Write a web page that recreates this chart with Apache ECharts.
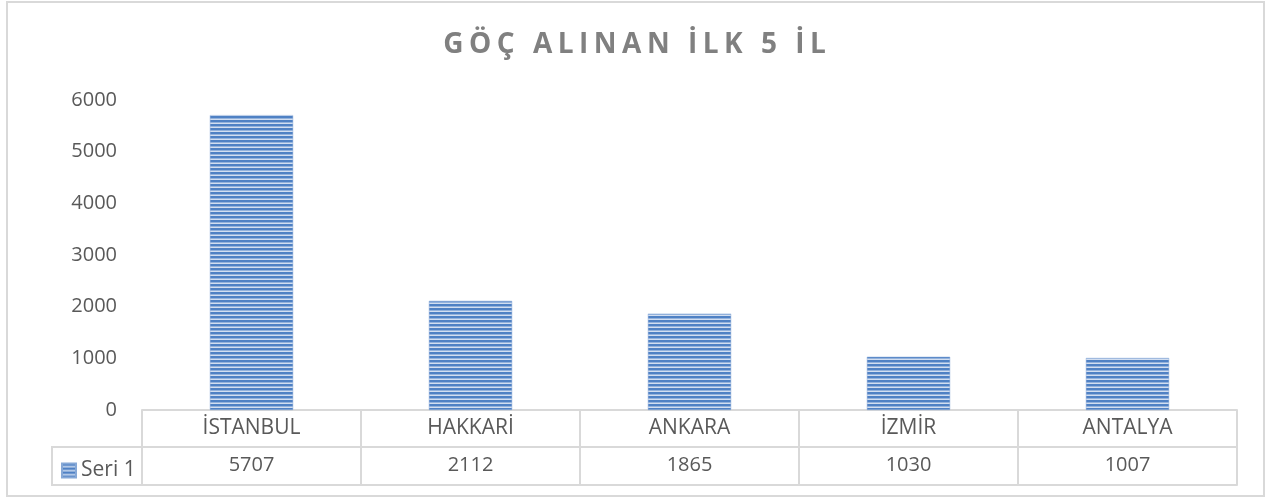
<!DOCTYPE html>
<html>
<head>
<meta charset="utf-8">
<script src="https://cdn.jsdelivr.net/npm/echarts@6/dist/echarts.min.js"></script>
<style>
html,body{margin:0;padding:0;background:#fff;}
#c{width:1269px;height:500px;}
</style>
</head>
<body>
<div id="c"></div>
<script>
const TITLE = 'GÖÇ ALINAN İLK 5 İL';
const categories = ['İSTANBUL', 'HAKKARİ', 'ANKARA', 'İZMİR', 'ANTALYA'];
const seriesName = 'Seri 1';
const values = [5707, 2112, 1865, 1030, 1007];
const yTicks = [0, 1000, 2000, 3000, 4000, 5000, 6000];

// letter spacing for the title only
const origFill = CanvasRenderingContext2D.prototype.fillText;
CanvasRenderingContext2D.prototype.fillText = function (t, x, y, m) {
  if (t === TITLE && 'letterSpacing' in this) {
    const prev = this.letterSpacing;
    this.letterSpacing = '5.5px';
    origFill.call(this, t, x + 2.75, y, m);
    this.letterSpacing = prev;
  } else {
    origFill.apply(this, arguments);
  }
};

// striped pattern for bars
const pc = document.createElement('canvas');
pc.width = 4; pc.height = 4;
const pctx = pc.getContext('2d');
pctx.fillStyle = '#d2def0'; pctx.fillRect(0, 0, 4, 4);
pctx.fillStyle = '#4f81c4'; pctx.fillRect(0, 0, 4, 2);
pctx.fillStyle = '#93b2dc'; pctx.fillRect(0, 2, 4, 1);

const gridColor = '#d9d9d9';
const textColor = '#595959';
const font = 'Open Sans';

const chart = echarts.init(document.getElementById('c'), null, { renderer: 'canvas' });
chart.setOption({
  animation: false,
  backgroundColor: '#fff',
  title: {
    text: TITLE,
    left: 'center',
    top: 26,
    textStyle: { fontFamily: font, fontWeight: 'bold', fontSize: 28, color: '#808080' }
  },
  legend: {
    left: 56, top: 455,
    itemWidth: 14, itemHeight: 14, itemGap: 4,
    icon: 'rect',
    textStyle: { fontFamily: font, fontSize: 21, color: textColor },
    data: [seriesName]
  },
  grid: { left: 142, right: 32, top: 100, bottom: 90, containLabel: false },
  xAxis: [
    {
      type: 'category', data: categories, position: 'bottom',
      axisLine: { show: true, lineStyle: { color: gridColor, width: 2 } },
      axisTick: { show: true, interval: 0, length: 75, lineStyle: { color: gridColor, width: 2 } },
      axisLabel: { interval: 0, margin: 8, fontFamily: font, fontSize: 21, color: textColor }
    },
    {
      type: 'category', data: categories, position: 'bottom', offset: 37,
      axisLine: { show: true, lineStyle: { color: gridColor, width: 2 } },
      axisTick: { show: false },
      axisLabel: { interval: 0, margin: 8, fontFamily: font, fontSize: 20, color: textColor,
        formatter: (v, i) => String(values[i]) }
    },
    {
      type: 'category', data: categories, position: 'bottom', offset: 75,
      axisLine: { show: true, lineStyle: { color: gridColor, width: 2 } },
      axisTick: { show: false },
      axisLabel: { show: false }
    }
  ],
  yAxis: {
    type: 'value', min: 0, max: 6000, interval: 1000,
    axisLine: { show: false }, axisTick: { show: false }, splitLine: { show: false },
    axisLabel: { margin: 25, fontFamily: font, fontSize: 20, color: textColor,
      formatter: v => yTicks.includes(v) ? String(v) : '' }
  },
  series: [{
    name: seriesName, type: 'bar', data: values, xAxisIndex: 0,
    barWidth: '38%',
    itemStyle: { color: { image: pc, repeat: 'repeat' }, borderColor: '#86a8d6', borderWidth: 0.5 }
  }],
  graphic: [
    { type: 'rect', shape: { x: 52, y: 447, width: 90, height: 38 },
      style: { fill: 'none', stroke: gridColor, lineWidth: 2 }, silent: true },
    { type: 'rect', shape: { x: 7, y: 2, width: 1257, height: 494 },
      style: { fill: 'none', stroke: gridColor, lineWidth: 2 }, silent: true, z: -1 }
  ]
});
</script>
</body>
</html>
